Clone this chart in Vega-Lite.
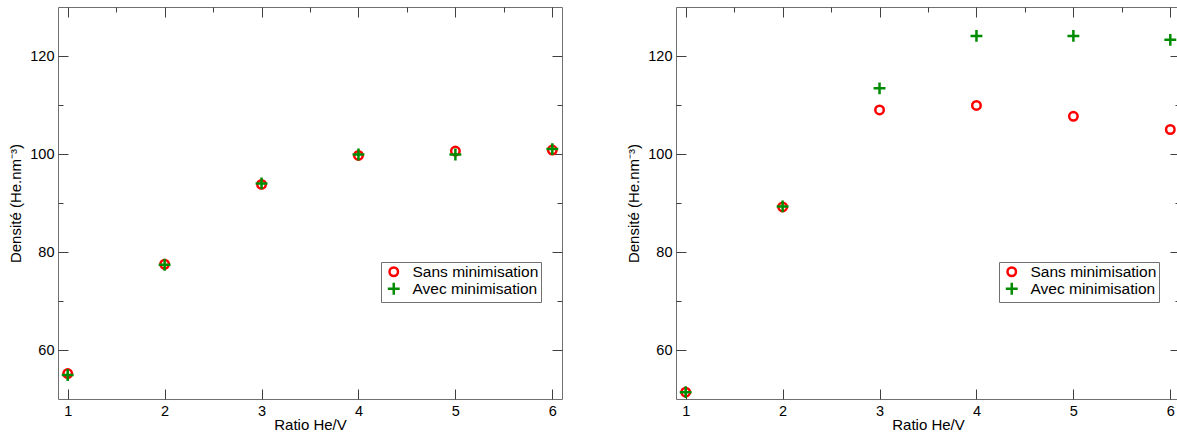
{
  "$schema": "https://vega.github.io/schema/vega-lite/v6.json",
  "padding": {"left": 8, "top": 6, "right": 0, "bottom": 0},
  "background": "white",
  "datasets": {
    "pts": [
      {"panel": "A", "serie": "Sans minimisation", "ratio": 1, "densite": 55.2},
      {"panel": "A", "serie": "Sans minimisation", "ratio": 2, "densite": 77.5},
      {"panel": "A", "serie": "Sans minimisation", "ratio": 3, "densite": 93.8},
      {"panel": "A", "serie": "Sans minimisation", "ratio": 4, "densite": 99.7},
      {"panel": "A", "serie": "Sans minimisation", "ratio": 5, "densite": 100.6},
      {"panel": "A", "serie": "Sans minimisation", "ratio": 6, "densite": 100.8},
      {"panel": "A", "serie": "Avec minimisation", "ratio": 1, "densite": 54.9},
      {"panel": "A", "serie": "Avec minimisation", "ratio": 2, "densite": 77.4},
      {"panel": "A", "serie": "Avec minimisation", "ratio": 3, "densite": 94.0},
      {"panel": "A", "serie": "Avec minimisation", "ratio": 4, "densite": 99.9},
      {"panel": "A", "serie": "Avec minimisation", "ratio": 5, "densite": 99.9},
      {"panel": "A", "serie": "Avec minimisation", "ratio": 6, "densite": 101.0},
      {"panel": "B", "serie": "Sans minimisation", "ratio": 1, "densite": 51.4},
      {"panel": "B", "serie": "Sans minimisation", "ratio": 2, "densite": 89.2},
      {"panel": "B", "serie": "Sans minimisation", "ratio": 3, "densite": 109.0},
      {"panel": "B", "serie": "Sans minimisation", "ratio": 4, "densite": 109.9},
      {"panel": "B", "serie": "Sans minimisation", "ratio": 5, "densite": 107.7},
      {"panel": "B", "serie": "Sans minimisation", "ratio": 6, "densite": 105.0},
      {"panel": "B", "serie": "Avec minimisation", "ratio": 1, "densite": 51.4},
      {"panel": "B", "serie": "Avec minimisation", "ratio": 2, "densite": 89.3},
      {"panel": "B", "serie": "Avec minimisation", "ratio": 3, "densite": 113.4},
      {"panel": "B", "serie": "Avec minimisation", "ratio": 4, "densite": 124.1},
      {"panel": "B", "serie": "Avec minimisation", "ratio": 5, "densite": 124.1},
      {"panel": "B", "serie": "Avec minimisation", "ratio": 6, "densite": 123.3}
    ]
  },
  "config": {
    "font": "Liberation Sans",
    "view": {"stroke": "#707070", "strokeWidth": 1},
    "axis": {
      "domain": false, "grid": false, "tickColor": "#404040", "tickSize": -10,
      "labelFontSize": 14.5, "labelColor": "#000000", "labelFont": "Liberation Sans",
      "titleFontSize": 15, "titleFontWeight": "normal", "titleColor": "#000000", "titleFont": "Liberation Sans"
    },
    "legend": {
      "orient": "none", "legendX": 323, "legendY": 255, "title": null,
      "strokeColor": "#707070", "fillColor": "white", "padding": 2,
      "labelFontSize": 15.5, "labelFont": "Liberation Sans", "labelColor": "#000000",
      "symbolSize": 72, "symbolStrokeWidth": 2.5, "symbolOffset": 3, "labelOffset": 11, "rowPadding": -6
    },
    "concat": {"spacing": 62}
  },
  "resolve": {"scale": {"color": "independent", "shape": "independent"}, "legend": {"color": "independent", "shape": "independent"}},
  "hconcat": [
    {
      "width": 504, "height": 392,
      "data": {"name": "pts"},
      "transform": [{"filter": "datum.panel == 'A'"}],
      "layer": [
        {
          "mark": {"type": "point", "filled": false, "strokeWidth": 2.5, "size": 72, "opacity": 1},
          "encoding": {
            "x": {"field": "ratio", "type": "quantitative", "scale": {"domain": [0.9, 6.1], "nice": false, "zero": false},
              "axis": {"orient": "bottom", "values": [1, 1.5, 2, 2.5, 3, 3.5, 4, 4.5, 5, 5.5, 6], "format": "d", "labelExpr": "datum.value % 1 ? '' : datum.label",
                "tickDash": {"condition": {"test": "datum.value % 1 != 0", "value": [5, 20]}, "value": []},
                "labelPadding": 15, "title": "Ratio He/V", "titlePadding": 0}},
            "y": {"field": "densite", "type": "quantitative", "scale": {"domain": [50, 130], "nice": false, "zero": false},
              "axis": {"orient": "left", "values": [60, 70, 80, 90, 100, 110, 120], "labelExpr": "datum.value % 20 ? '' : datum.label",
                "tickDash": {"condition": {"test": "datum.value % 20 != 0", "value": [5, 20]}, "value": []},
                "labelPadding": 14, "title": "Densité (He.nm⁻³)", "titlePadding": 6}},
            "color": {"field": "serie", "type": "nominal", "scale": {"domain": ["Sans minimisation", "Avec minimisation"], "range": ["#ff0000", "#008c00"]}},
            "shape": {"field": "serie", "type": "nominal", "scale": {"domain": ["Sans minimisation", "Avec minimisation"], "range": ["circle", "M-1.4,0H1.4M0,-1.4V1.4"]}}
          }
        },
        {
          "mark": {"type": "point", "opacity": 0},
          "encoding": {
            "x": {"field": "ratio", "type": "quantitative",
              "axis": {"orient": "top", "values": [1, 1.5, 2, 2.5, 3, 3.5, 4, 4.5, 5, 5.5, 6], "labels": false, "title": null,
                "tickDash": {"condition": {"test": "datum.value % 1 != 0", "value": [5, 20]}, "value": []}}},
            "y": {"field": "densite", "type": "quantitative",
              "axis": {"orient": "right", "values": [60, 70, 80, 90, 100, 110, 120], "labels": false, "title": null,
                "tickDash": {"condition": {"test": "datum.value % 20 != 0", "value": [5, 20]}, "value": []}}}
          }
        }
      ],
      "resolve": {"axis": {"x": "independent", "y": "independent"}}
    },
    {
      "width": 504, "height": 392,
      "data": {"name": "pts"},
      "transform": [{"filter": "datum.panel == 'B'"}],
      "layer": [
        {
          "mark": {"type": "point", "filled": false, "strokeWidth": 2.5, "size": 72, "opacity": 1},
          "encoding": {
            "x": {"field": "ratio", "type": "quantitative", "scale": {"domain": [0.9, 6.1], "nice": false, "zero": false},
              "axis": {"orient": "bottom", "values": [1, 1.5, 2, 2.5, 3, 3.5, 4, 4.5, 5, 5.5, 6], "format": "d", "labelExpr": "datum.value % 1 ? '' : datum.label",
                "tickDash": {"condition": {"test": "datum.value % 1 != 0", "value": [5, 20]}, "value": []},
                "labelPadding": 15, "title": "Ratio He/V", "titlePadding": 0}},
            "y": {"field": "densite", "type": "quantitative", "scale": {"domain": [50, 130], "nice": false, "zero": false},
              "axis": {"orient": "left", "values": [60, 70, 80, 90, 100, 110, 120], "labelExpr": "datum.value % 20 ? '' : datum.label",
                "tickDash": {"condition": {"test": "datum.value % 20 != 0", "value": [5, 20]}, "value": []},
                "labelPadding": 14, "title": "Densité (He.nm⁻³)", "titlePadding": 6}},
            "color": {"field": "serie", "type": "nominal", "scale": {"domain": ["Sans minimisation", "Avec minimisation"], "range": ["#ff0000", "#008c00"]}},
            "shape": {"field": "serie", "type": "nominal", "scale": {"domain": ["Sans minimisation", "Avec minimisation"], "range": ["circle", "M-1.4,0H1.4M0,-1.4V1.4"]}}
          }
        },
        {
          "mark": {"type": "point", "opacity": 0},
          "encoding": {
            "x": {"field": "ratio", "type": "quantitative",
              "axis": {"orient": "top", "values": [1, 1.5, 2, 2.5, 3, 3.5, 4, 4.5, 5, 5.5, 6], "labels": false, "title": null,
                "tickDash": {"condition": {"test": "datum.value % 1 != 0", "value": [5, 20]}, "value": []}}},
            "y": {"field": "densite", "type": "quantitative",
              "axis": {"orient": "right", "values": [60, 70, 80, 90, 100, 110, 120], "labels": false, "title": null,
                "tickDash": {"condition": {"test": "datum.value % 20 != 0", "value": [5, 20]}, "value": []}}}
          }
        }
      ],
      "resolve": {"axis": {"x": "independent", "y": "independent"}}
    }
  ]
}
